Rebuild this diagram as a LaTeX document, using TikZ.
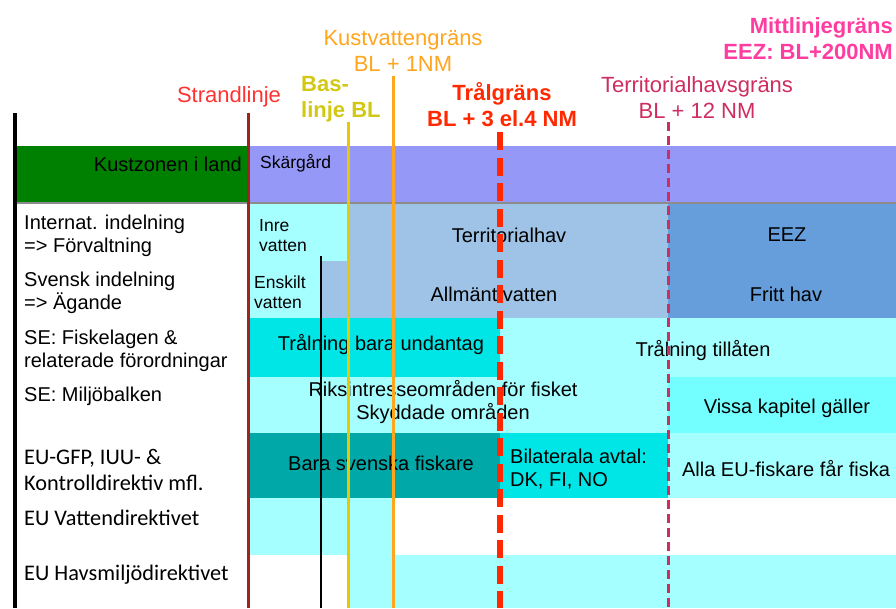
\documentclass[tikz,border=0pt]{standalone}
\usepackage{fontspec}
\setmainfont{Liberation Sans}
\newfontfamily\carlito{Carlito}

\definecolor{landgreen}{RGB}{0,128,0}
\definecolor{skargard}{RGB}{150,152,248}
\definecolor{ljuscyan}{RGB}{166,255,255}
\definecolor{mellancyan}{RGB}{115,255,255}
\definecolor{klarcyan}{RGB}{0,230,230}
\definecolor{morkteal}{RGB}{0,168,168}
\definecolor{terrblue}{RGB}{158,195,230}
\definecolor{eezblue}{RGB}{101,158,219}
\definecolor{strandred}{RGB}{255,50,50}
\definecolor{strandline}{RGB}{160,35,30}
\definecolor{basyellow}{RGB}{210,200,20}
\definecolor{basline}{RGB}{232,200,0}
\definecolor{kustorange}{RGB}{255,165,30}
\definecolor{tralred}{RGB}{255,40,0}
\definecolor{terrcrimson}{RGB}{205,45,95}
\definecolor{mittpink}{RGB}{255,60,160}

\begin{document}
\begin{tikzpicture}[x=1pt,y=-1pt,
    txt/.style={font=\fontsize{20}{23}\selectfont, inner sep=0pt},
    lefttxt/.style={txt, anchor=west, align=left},
    small/.style={font=\fontsize{17.5}{20}\selectfont, inner sep=0pt, anchor=west, align=left},
    eutxt/.style={font=\carlito\fontsize{22.3}{26}\selectfont, inner sep=0pt, anchor=west, align=left},
    head/.style={font=\fontsize{22}{26}\selectfont, inner sep=0pt, align=center},
    bhead/.style={head, font=\bfseries\fontsize{22}{26}\selectfont}]
    \useasboundingbox (0,0) rectangle (896,608);

    % Headings
    \node[head, text=strandred] (strand) at (229,97) {Strandlinje};
    \node[bhead, text=basyellow, align=left, anchor=west] (bas) at (301,99) {Bas-\\linje BL};
    \node[head, text=kustorange] (kust) at (403,51) {Kustvattengräns\\BL + 1NM};
    \node[bhead, text=tralred] (tral) at (502,105) {Trålgräns\\BL + 3 el.4 NM};
    \node[head, text=terrcrimson] (terr) at (697,98) {Territorialhavsgräns\\BL + 12 NM};
    \node[bhead, text=mittpink, align=right, anchor=east] (mitt) at (893,39) {Mittlinjegräns\\EEZ: BL+200NM};

    % Land and archipelago
    \fill[landgreen] (15,146) rectangle (248,203);
    \fill[skargard] (248,146) rectangle (896,203);
    \draw[line width=1.5, black!45] (15,203) -- (896,203);
    \node[txt, anchor=east] (kustzon) at (242,164) {Kustzonen i land};
    \node[small] (skar) at (260,163) {Skärgård};

    % Division and ownership
    \fill[ljuscyan] (250,204) rectangle (347,261);
    \fill[ljuscyan] (250,261) rectangle (321,318);
    \fill[terrblue] (347,204) rectangle (668,261);
    \fill[terrblue] (321,261) rectangle (668,318);
    \fill[eezblue] (668,204) rectangle (896,318);

    % Fishing law
    \fill[klarcyan] (250,318) rectangle (500,377);
    \fill[ljuscyan] (500,318) rectangle (896,377);

    % Environmental code
    \fill[ljuscyan] (250,377) rectangle (668,433);
    \fill[mellancyan] (668,377) rectangle (896,433);

    % EU fisheries
    \fill[morkteal] (250,433) rectangle (500,498);
    \fill[klarcyan] (500,433) rectangle (668,498);
    \fill[ljuscyan] (668,433) rectangle (896,498);

    % EU directives
    \fill[ljuscyan] (250,498) rectangle (393,555);
    \fill[ljuscyan] (347,555) rectangle (896,608);

    % Row labels
    \node[lefttxt] (internat) at (24,236) {Internat. indelning\\=> Förvaltning};
    \node[lefttxt] (svensk) at (24,293) {Svensk indelning\\=> Ägande};
    \node[lefttxt] (fiskelag) at (24,351) {SE: Fiskelagen \&\\relaterade förordningar};
    \node[lefttxt] (miljo) at (24,396) {SE: Miljöbalken};
    \node[eutxt] (gfp) at (24,470) {EU-GFP, IUU- \&\\Kontrolldirektiv mfl.};
    \node[eutxt] (vattendir) at (24,518) {EU Vattendirektivet};
    \node[eutxt] (havsmiljo) at (24,575) {EU Havsmiljödirektivet};

    % Zone texts
    \node[small] (inre) at (259,236) {Inre\\vatten};
    \node[small] (enskilt) at (254,292) {Enskilt\\vatten};
    \node[txt] (territorialhav) at (509,235) {Territorialhav};
    \node[txt] (eez) at (787,235) {EEZ};
    \node[txt] (allmant) at (494,294) {Allmänt vatten};
    \node[txt] (fritt) at (786,294) {Fritt hav};
    \node[txt] (undantag) at (381,345) {Trålning bara undantag};
    \node[txt] (tillaten) at (703,351) {Trålning tillåten};
    \node[txt, align=center] (riks) at (443,402) {Riksintresseområden för fisket\\Skyddade områden};
    \node[txt] (vissa) at (787,408) {Vissa kapitel gäller};
    \node[txt] (svenska) at (381,463) {Bara svenska fiskare};
    \node[lefttxt] (bilat) at (510,469) {Bilaterala avtal:\\DK, FI, NO};
    \node[txt] (alla) at (786,469) {Alla EU-fiskare får fiska};

    % Boundary lines
    \draw[line width=3.5, black] (15,113) -- (15,608);
    \draw[line width=3, strandline] (248,113) -- (248,608);
    \draw[line width=2.5, black] (321,256) -- (321,608);
    \draw[line width=3, basline] (348,122) -- (348,608);
    \draw[line width=3, kustorange] (393,76) -- (393,608);
    \draw[line width=6, tralred, dash pattern=on 18pt off 7.5pt] (500,132) -- (500,608);
    \draw[line width=3, terrcrimson, dash pattern=on 9pt off 5pt] (668,122) -- (668,608);

\end{tikzpicture}
\end{document}
